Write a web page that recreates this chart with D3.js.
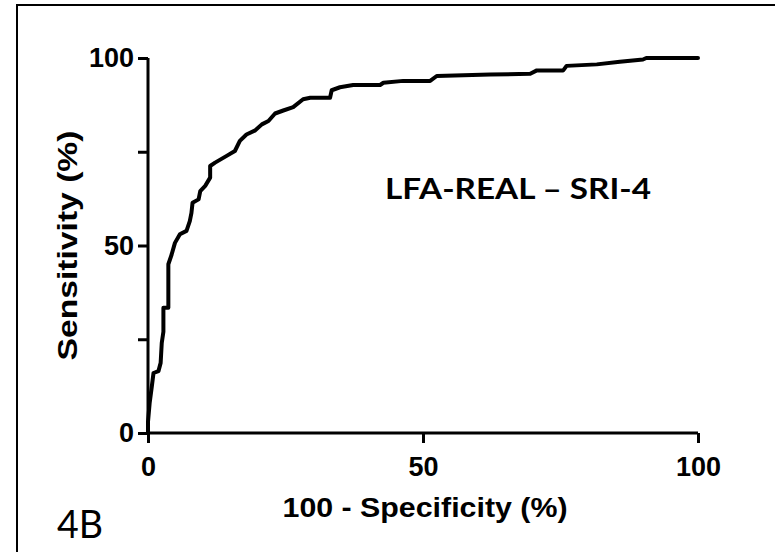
<!DOCTYPE html>
<html>
<head>
<meta charset="utf-8">
<script src="https://cdn.jsdelivr.net/npm/d3@7/dist/d3.min.js"></script>
<style>
  html, body { margin: 0; padding: 0; background: #fff; }
  svg { display: block; }
</style>
</head>
<body>
<svg id="chart" width="775" height="552"></svg>
<script>
// ROC curve: 100 - Specificity (%) vs Sensitivity (%)
const fpr = [0, 0, 0.3, 0.7, 1.0, 1.9, 2.3, 2.5, 2.8, 2.8, 3.7, 3.7, 3.7, 4.3, 4.9, 5.8, 7.0, 7.6, 7.9, 8.1, 9.2, 9.5, 10.4, 11.3, 11.3, 12.2, 14.3, 15.8, 16.7, 17.9, 19.5, 20.7, 21.9, 23.1, 24.6, 26.4, 28.2, 29.5, 33.1, 33.4, 34.9, 37.3, 42.2, 42.8, 46.4, 51.3, 52.5, 62.2, 69.5, 70.7, 75.5, 76.1, 81.6, 85.8, 90.0, 90.6, 100];
const tpr = [0, 3, 8, 12.5, 16, 16.5, 18.7, 24, 27, 33.4, 33.4, 38, 45, 47.6, 50.7, 53, 53.9, 56.5, 58.7, 61.4, 62.3, 64.5, 65.9, 68.1, 71.2, 72.1, 73.9, 75.2, 77.9, 79.6, 80.7, 82.3, 83.2, 85.2, 86, 86.9, 89, 89.4, 89.4, 91.4, 92.2, 92.8, 92.8, 93.4, 93.9, 93.9, 95.2, 95.6, 95.8, 96.7, 96.7, 97.9, 98.3, 99, 99.6, 100, 100];
const xTicks = [0, 50, 100];
const yTicks = [0, 25, 50, 75, 100];
const yTickLabels = ["0", "", "50", "", "100"];
const xTitle = "100 - Specificity (%)";
const yTitle = "Sensitivity (%)";
const annotation = "LFA-REAL \u2013 SRI-4";
const panelLabel = "4B";

const svg = d3.select("#chart");
const x = d3.scaleLinear().domain([0, 100]).range([148, 698]);
const y = d3.scaleLinear().domain([0, 100]).range([433, 58]);

// outer frame (left & top visible)
svg.append("path")
  .attr("d", "M17,560 L17,5 L780,5")
  .attr("fill", "none").attr("stroke", "#000").attr("stroke-width", 2);

const font = "'Liberation Sans', Arial, sans-serif";

// Y axis
const yAxis = svg.append("g").attr("transform", `translate(${x(0)},0)`)
  .call(d3.axisLeft(y).tickValues(yTicks).tickSize(10).tickPadding(4)
    .tickFormat((d, i) => yTickLabels[i]));
// X axis
const xAxis = svg.append("g").attr("transform", `translate(0,${y(0)})`)
  .call(d3.axisBottom(x).tickValues(xTicks).tickSize(10).tickPadding(14)
    .tickFormat(d3.format("d")));

[yAxis, xAxis].forEach(g => {
  g.select(".domain").attr("stroke", "#000").attr("stroke-width", 3)
    .attr("d", g === yAxis ? `M0,${y(100)}V${y(0)}` : `M${x(0)},0H${x(100)}`);
  g.selectAll(".tick line").attr("stroke", "#000").attr("stroke-width", 3);
  g.selectAll(".tick text").attr("fill", "#000")
    .style("font-family", font).style("font-weight", "bold").style("font-size", "27px");
});

// curve
const pts = fpr.map((v, i) => [v, tpr[i]]);
svg.append("path")
  .datum(pts)
  .attr("fill", "none")
  .attr("stroke", "#000")
  .attr("stroke-width", 4)
  .attr("stroke-linejoin", "round")
  .attr("stroke-linecap", "round")
  .attr("d", d3.line().x(d => x(d[0])).y(d => y(d[1])));

// axis titles
svg.append("text")
  .attr("x", 425).attr("y", 517)
  .attr("text-anchor", "middle")
  .attr("textLength", 285).attr("lengthAdjust", "spacingAndGlyphs")
  .style("font-family", font).style("font-weight", "bold").style("font-size", "27px")
  .text(xTitle);

svg.append("text")
  .attr("transform", `translate(77,${(y(0) + y(100)) / 2}) rotate(-90)`)
  .attr("text-anchor", "middle")
  .attr("textLength", 230).attr("lengthAdjust", "spacingAndGlyphs")
  .style("font-family", font).style("font-weight", "bold").style("font-size", "27px")
  .text(yTitle);

// annotation
svg.append("text")
  .attr("x", 385).attr("y", 199)
  .attr("textLength", 266).attr("lengthAdjust", "spacingAndGlyphs")
  .style("font-family", "Lato, 'Open Sans', sans-serif").style("font-weight", "bold").style("font-size", "28px")
  .text(annotation);

// panel label
svg.append("text")
  .attr("x", 57).attr("y", 538)
  .attr("textLength", 46).attr("lengthAdjust", "spacingAndGlyphs")
  .style("font-family", "Lato, 'Open Sans', sans-serif").style("font-size", "38px")
  .text(panelLabel);
</script>
</body>
</html>
